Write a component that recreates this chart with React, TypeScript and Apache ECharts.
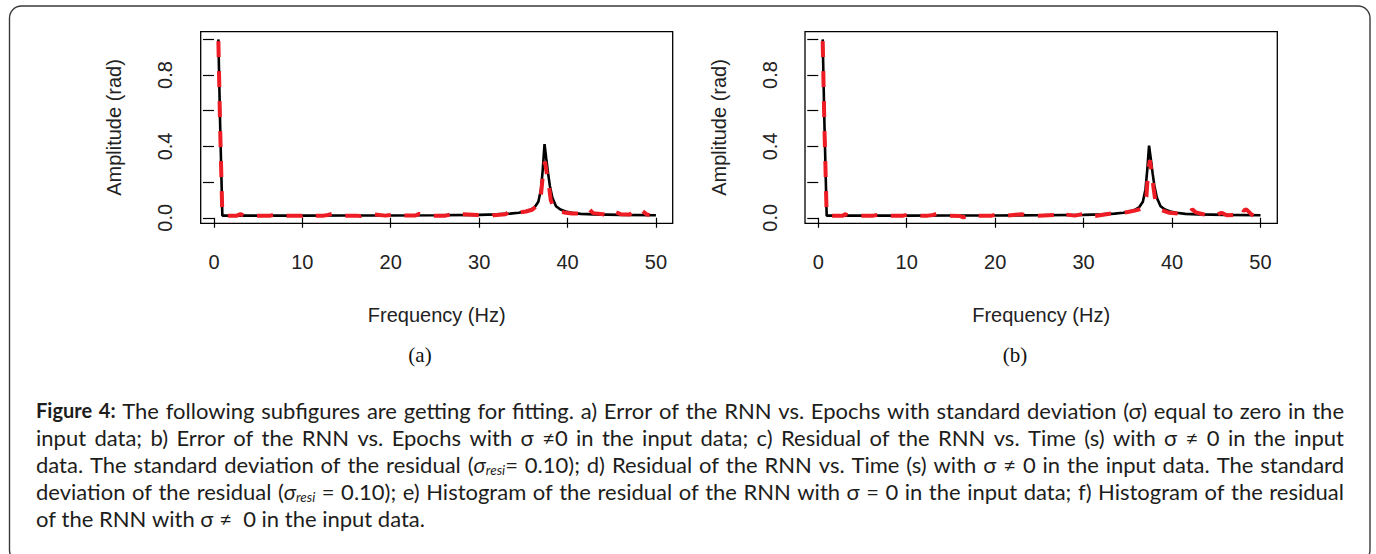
import { useEffect, useRef } from "react";
import * as echarts from "echarts";

// ---------- data ----------
const X_TICKS = [0, 10, 20, 30, 40, 50];
const Y_TICKS = [0, 0.2, 0.4, 0.6, 0.8, 1.0];
const Y_LABELS = [0, 0.4, 0.8];
const X_RANGE = [-1.5, 51.9];
const Y_RANGE = [-0.031, 1.043];

const X_TITLE = "Frequency (Hz)";
const Y_TITLE = "Amplitude (rad)";
const PANEL_LABELS = ["(a)", "(b)"];

// true spectrum (black), panel a: [frequency, amplitude]
const trueA: number[][] = [
  [0.5, 1.0], [0.7, 0.52], [0.95, 0.012], [5, 0.012], [10, 0.012], [15, 0.013],
  [20, 0.013], [25, 0.014], [30, 0.016], [32, 0.019], [33.5, 0.023], [34.5, 0.028],
  [35.2, 0.035], [35.8, 0.045], [36.3, 0.06], [36.7, 0.09], [37.0, 0.16], [37.2, 0.27],
  [37.4, 0.413], [37.6, 0.33], [37.8, 0.25], [38.0, 0.18], [38.3, 0.11], [38.7, 0.065],
  [39.2, 0.046], [39.8, 0.035], [40.5, 0.028], [41.5, 0.022], [43, 0.019], [46, 0.016], [50, 0.014],
];

// RNN prediction (red dashed), panel a
const predA: number[][] = [
  [0.5, 0.99], [0.7, 0.5], [0.95, 0.012], [2.6, 0.012], [3.0, 0.02], [3.4, 0.012],
  [3.8, 0.016], [4.2, 0.01], [4.6, 0.012], [6.4, 0.012], [6.9, 0.018], [7.3, 0.022],
  [7.7, 0.014], [8.1, 0.012], [10.0, 0.012], [10.4, 0.022], [10.8, 0.014], [11.3, 0.012],
  [12.4, 0.012], [12.9, 0.016], [13.4, 0.022], [13.9, 0.012], [16.0, 0.012], [16.6, 0.01],
  [17.1, 0.016], [17.5, 0.022], [19.4, 0.012], [19.9, 0.016], [20.5, 0.022], [21.0, 0.012],
  [22.8, 0.013], [23.2, 0.022], [23.7, 0.016], [24.5, 0.012], [26.2, 0.012], [26.9, 0.02],
  [27.5, 0.032], [28.0, 0.02], [29.8, 0.015], [30.5, 0.012], [31.2, 0.006], [31.6, 0.014],
  [33.0, 0.02], [33.5, 0.038], [34.0, 0.026], [34.6, 0.03], [35.3, 0.035], [36.0, 0.045],
  [36.6, 0.07], [37.0, 0.13], [37.25, 0.26], [37.45, 0.315], [37.65, 0.25], [37.85, 0.2],
  [38.1, 0.1], [38.5, 0.05], [39.0, 0.038], [39.6, 0.03], [40.5, 0.024], [41.5, 0.024],
  [42.0, 0.03], [42.4, 0.05], [42.9, 0.026], [44.0, 0.02], [44.8, 0.006], [45.4, 0.032],
  [46.0, 0.02], [47.0, 0.018], [47.5, 0.036], [48.0, 0.018], [48.5, 0.036], [49.0, 0.018],
  [49.3, 0.015],
];

// true spectrum (black), panel b
const trueB: number[][] = [
  [0.5, 1.0], [0.7, 0.52], [0.95, 0.012], [5, 0.012], [10, 0.012], [15, 0.013],
  [20, 0.013], [25, 0.014], [30, 0.016], [32, 0.019], [33.5, 0.023], [34.5, 0.028],
  [35.2, 0.035], [35.8, 0.045], [36.3, 0.06], [36.7, 0.09], [37.0, 0.16], [37.2, 0.27],
  [37.4, 0.404], [37.6, 0.33], [37.8, 0.25], [38.0, 0.18], [38.3, 0.11], [38.7, 0.065],
  [39.2, 0.046], [39.8, 0.035], [40.5, 0.028], [41.5, 0.022], [43, 0.019], [46, 0.016], [50, 0.014],
];

// RNN prediction (red dashed), panel b
const predB: number[][] = [
  [0.5, 0.99], [0.7, 0.5], [0.95, 0.012], [2.8, 0.012], [3.0, 0.02], [3.5, 0.012],
  [4.0, 0.016], [4.5, 0.011], [6.2, 0.012], [6.8, 0.016], [7.3, 0.022], [7.9, 0.012],
  [9.6, 0.012], [10.5, 0.022], [11.0, 0.014], [11.5, 0.012], [12.4, 0.012], [13.0, 0.016],
  [13.4, 0.022], [14.3, 0.012], [16.0, 0.01], [16.4, 0.002], [17.0, 0.012], [17.5, 0.022],
  [17.9, 0.012], [19.6, 0.012], [20.5, 0.022], [21.3, 0.012], [23.0, 0.02], [23.5, 0.012],
  [24.9, 0.012], [26.7, 0.016], [27.4, 0.034], [28.0, 0.018], [29.0, 0.012], [30.0, 0.022],
  [30.5, 0.028], [30.9, 0.014], [31.3, 0.01], [33.3, 0.025], [33.5, 0.03], [34.5, 0.028],
  [35.0, 0.032], [35.8, 0.04], [36.5, 0.05], [37.1, 0.118], [37.3, 0.267], [37.5, 0.323],
  [37.7, 0.25], [37.9, 0.17], [38.1, 0.099], [38.4, 0.06], [38.8, 0.043], [39.7, 0.028],
  [41.0, 0.022], [42.0, 0.03], [42.3, 0.047], [42.7, 0.03], [43.5, 0.02], [44.6, 0.006],
  [45.2, 0.02], [45.6, 0.028], [46.2, 0.014], [47.5, 0.016], [47.8, 0.052], [48.1, 0.04],
  [48.4, 0.047], [49.0, 0.018], [49.2, 0.012],
];

// caption: **bold**, _sub_ = italic subscript, ~it~ = italic
const CAPTION_LINES = [
  "**Figure** **4:** The following subfigures are getting for fitting. a) Error of the RNN vs. Epochs with standard deviation (σ) equal to zero in the",
  "input data; b) Error of the RNN vs. Epochs with σ ≠0 in the input data; c) Residual of the RNN vs. Time (s) with σ ≠ 0 in the input",
  "data. The standard deviation of the residual (~σ~_resi_= 0.10); d) Residual of the RNN vs. Time (s) with σ ≠ 0 in the input data. The standard",
  "deviation of the residual (~σ~_resi_ = 0.10); e) Histogram of the residual of the RNN with σ = 0 in the input data; f) Histogram of the residual",
  "of the RNN with σ ≠  0 in the input data.",
];

// ---------- layout ----------
const W = 1376;
const H = 554;
const GRIDS = [
  { left: 200.7, top: 31.7, width: 472, height: 191.6 },
  { left: 805, top: 31.7, width: 472.3, height: 191.6 },
];
const PANEL_LABEL_POS = [
  [420, 355],
  [1015, 355],
];
const AXIS_FONT = "Liberation Sans";
const AXIS_COLOR = "#222";
const CAP_FONT = "Lato";
const CAP_SIZE = 22;
const CAP_BOLD_SIZE = 20;
const CAP_SUB = 13.5;
const CAP_LEFT = 36;
const CAP_RIGHT = 1344;
const CAP_TOP = 410;
const CAP_LH = 27;

type Seg = { t: string; b?: boolean; it?: boolean; sub?: boolean };

function parseWord(w: string): Seg[] {
  const parts = w.split(/(\*\*[^*]+\*\*|~[^~]+~|_[^_]+_)/).filter((p) => p.length);
  return parts.map((p) => {
    if (p.startsWith("**")) return { t: p.slice(2, -2), b: true };
    if (p.startsWith("~")) return { t: p.slice(1, -1), it: true };
    if (p.startsWith("_") && p.endsWith("_") && p.length > 2) return { t: p.slice(1, -1), it: true, sub: true };
    return { t: p };
  });
}

function sizeOf(s: Seg) {
  return s.sub ? CAP_SUB : s.b ? CAP_BOLD_SIZE : CAP_SIZE;
}

function buildCaption(): any[] {
  const canvas = document.createElement("canvas");
  const ctx = canvas.getContext("2d")!;
  const fontOf = (s: Seg) =>
    `${s.it ? "italic " : ""}${s.b ? "bold " : ""}${sizeOf(s)}px ${CAP_FONT}`;
  const measure = (s: Seg) => {
    ctx.font = fontOf(s);
    return ctx.measureText(s.t).width;
  };
  const els: any[] = [];
  CAPTION_LINES.forEach((line, li) => {
    const justify = li < CAPTION_LINES.length - 1;
    const raw = line.split(" ");
    const words = (justify ? raw.filter(Boolean) : raw).map(parseWord);
    const widths = words.map((w) => w.reduce((a, s) => a + measure(s), 0));
    const total = widths.reduce((a, b) => a + b, 0);
    const spaceW = measure({ t: " " });
    const gap = justify ? (CAP_RIGHT - CAP_LEFT - total) / (words.length - 1) : spaceW;
    let x = CAP_LEFT;
    const y = CAP_TOP + li * CAP_LH;
    words.forEach((w) => {
      w.forEach((s) => {
        els.push({
          type: "text",
          x,
          y: s.sub ? y + 6 : y,
          style: {
            text: s.t,
            fontFamily: CAP_FONT,
            fontSize: sizeOf(s),
            fontWeight: s.b ? "bold" : "normal",
            fontStyle: s.it ? "italic" : "normal",
            fill: "#1d1d1b",
            align: "left",
            verticalAlign: "middle",
          },
        });
        x += measure(s);
      });
      x += gap;
    });
  });
  return els;
}

function xAxisOf(gridIndex: number) {
  return {
    type: "value",
    gridIndex,
    min: X_RANGE[0],
    max: X_RANGE[1],
    offset: 3,
    axisLine: { show: false },
    splitLine: { show: false },
    axisTick: { show: true, length: 10, customValues: X_TICKS, lineStyle: { color: "#000", width: 1.2 } },
    axisLabel: {
      customValues: X_TICKS,
      margin: 26,
      fontSize: 20,
      fontFamily: AXIS_FONT,
      color: AXIS_COLOR,
    },
    name: X_TITLE,
    nameLocation: "middle",
    nameGap: 79,
    nameTextStyle: { fontSize: 20, fontFamily: AXIS_FONT, color: AXIS_COLOR },
  };
}

function yAxisOf(gridIndex: number) {
  return {
    type: "value",
    gridIndex,
    min: Y_RANGE[0],
    max: Y_RANGE[1],
    offset: 1.5,
    axisLine: { show: false },
    splitLine: { show: false },
    axisTick: { show: true, length: 11, customValues: Y_TICKS, lineStyle: { color: "#000", width: 1.2 } },
    axisLabel: {
      customValues: Y_LABELS,
      rotate: 90,
      margin: 24,
      fontSize: 20,
      fontFamily: AXIS_FONT,
      color: AXIS_COLOR,
      formatter: (v: number) => v.toFixed(1),
    },
    name: Y_TITLE,
    nameLocation: "middle",
    nameGap: 75,
    nameTextStyle: { fontSize: 20, fontFamily: AXIS_FONT, color: AXIS_COLOR },
  };
}

function seriesOf(data: number[][], idx: number, red: boolean) {
  return {
    type: "line",
    xAxisIndex: idx,
    yAxisIndex: idx,
    data,
    symbol: "none",
    silent: true,
    z: red ? 3 : 2,
    lineStyle: red
      ? { color: "#ee1d25", width: 4, type: [16, 14], cap: "butt" }
      : { color: "#000", width: 2.6 },
  };
}

export default function App() {
  const ref = useRef<HTMLDivElement>(null);
  useEffect(() => {
    if (!ref.current) return;
    const chart = echarts.init(ref.current, undefined, { renderer: "svg" });
    const graphics: any[] = [
      {
        type: "rect",
        shape: { x: 9.5, y: 6, width: 1360.5, height: 556, r: 12 },
        style: { fill: "none", stroke: "#3a3a3a", lineWidth: 1.4 },
        silent: true,
      },
      ...PANEL_LABELS.map((t, i) => ({
        type: "text",
        x: PANEL_LABEL_POS[i][0],
        y: PANEL_LABEL_POS[i][1],
        style: {
          text: t,
          fontFamily: "Liberation Serif",
          fontSize: 21,
          fill: "#111",
          align: "center",
          verticalAlign: "middle",
        },
      })),
      ...buildCaption(),
    ];
    chart.setOption({
      animation: false,
      backgroundColor: "#fff",
      grid: GRIDS.map((g) => ({
        ...g,
        show: true,
        borderColor: "#000",
        borderWidth: 1.3,
        backgroundColor: "transparent",
        containLabel: false,
      })),
      xAxis: [xAxisOf(0), xAxisOf(1)],
      yAxis: [yAxisOf(0), yAxisOf(1)],
      series: [
        seriesOf(trueA, 0, false),
        seriesOf(predA, 0, true),
        seriesOf(trueB, 1, false),
        seriesOf(predB, 1, true),
      ],
      graphic: graphics,
    });
    return () => chart.dispose();
  }, []);
  return (
    <div
      ref={ref}
      style={{ position: "fixed", left: 0, top: 0, width: W, height: H }}
    />
  );
}
